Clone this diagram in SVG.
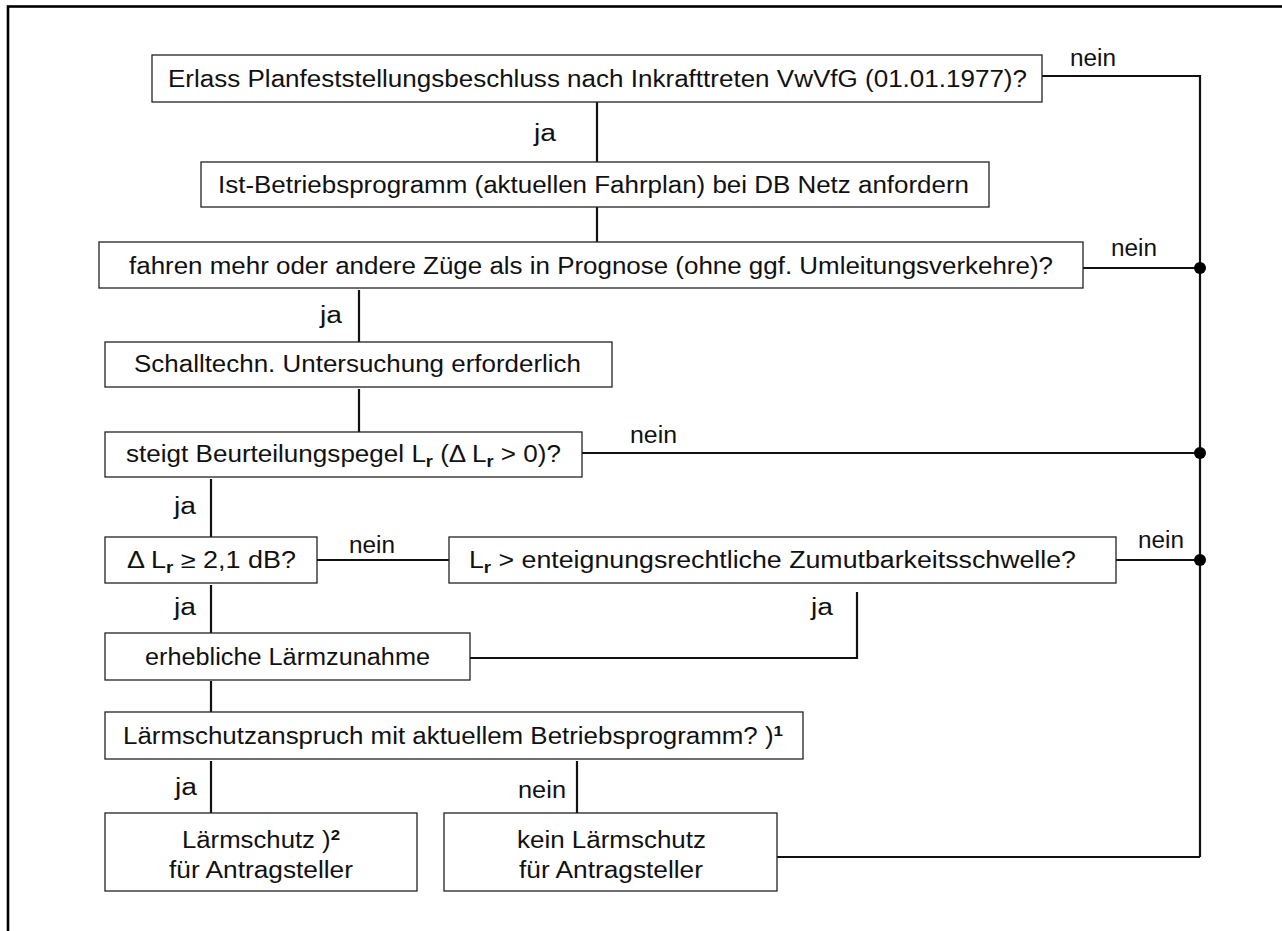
<svg xmlns="http://www.w3.org/2000/svg" width="1282" height="931" viewBox="0 0 1282 931">
<style>
.box{fill:#fff;stroke:#222;stroke-width:1.3}
.t{font-family:"Liberation Sans",Arial,sans-serif;font-size:23px;fill:#111}
.c{text-anchor:middle}
.con{fill:none;stroke:#111;stroke-width:2.2}
.sub{font-size:16px;font-weight:bold}
.sup{font-size:15px;font-weight:bold}
</style>
<rect x="0" y="0" width="1282" height="931" fill="#fff"/>
<rect x="8" y="6.5" width="1300" height="1000" fill="none" stroke="#000" stroke-width="2.6"/>

<g id="connectors">
<path class="con" d="M597 102V162M597 207V242M1042 76H1200V857M1083 268H1200M359 290V342M359 389V432M582 453H1200M211 479V537M317 560H449M1116 560H1200M857 592V658H470M211 585V633M211 681V712M211 761V813M577 761V813M777 857H1200"/>
<circle cx="1200" cy="268" r="6" fill="#000"/>
<circle cx="1200" cy="453" r="6" fill="#000"/>
<circle cx="1200" cy="560" r="6" fill="#000"/>
<text class="t" x="534" y="141" textLength="22" lengthAdjust="spacingAndGlyphs">ja</text>
<text class="t" x="1070" y="66" textLength="46" lengthAdjust="spacingAndGlyphs">nein</text>
<text class="t" x="1111" y="256" textLength="46" lengthAdjust="spacingAndGlyphs">nein</text>
<text class="t" x="320" y="323" textLength="22" lengthAdjust="spacingAndGlyphs">ja</text>
<text class="t" x="630" y="443" textLength="47" lengthAdjust="spacingAndGlyphs">nein</text>
<text class="t" x="174" y="514" textLength="22" lengthAdjust="spacingAndGlyphs">ja</text>
<text class="t" x="349" y="553" textLength="46" lengthAdjust="spacingAndGlyphs">nein</text>
<text class="t" x="174" y="615" textLength="22" lengthAdjust="spacingAndGlyphs">ja</text>
<text class="t" x="811" y="615" textLength="22" lengthAdjust="spacingAndGlyphs">ja</text>
<text class="t" x="1138" y="548" textLength="46" lengthAdjust="spacingAndGlyphs">nein</text>
<text class="t" x="175" y="795" textLength="22" lengthAdjust="spacingAndGlyphs">ja</text>
<text class="t" x="518" y="798" textLength="48" lengthAdjust="spacingAndGlyphs">nein</text>
</g>

<g id="n1"><rect class="box" x="152" y="55" width="890" height="47"/>
<text class="t c" x="597.5" y="87" textLength="859" lengthAdjust="spacingAndGlyphs">Erlass Planfeststellungsbeschluss nach Inkrafttreten VwVfG (01.01.1977)?</text></g>

<g id="n2"><rect class="box" x="201" y="162" width="788" height="45"/>
<text class="t c" x="593.5" y="193" textLength="751" lengthAdjust="spacingAndGlyphs">Ist-Betriebsprogramm (aktuellen Fahrplan) bei DB Netz anfordern</text></g>

<g id="n3"><rect class="box" x="99" y="242" width="984" height="46"/>
<text class="t c" x="591" y="274" textLength="924" lengthAdjust="spacingAndGlyphs">fahren mehr oder andere Züge als in Prognose (ohne ggf. Umleitungsverkehre)?</text></g>

<g id="n4"><rect class="box" x="105" y="342" width="507" height="45"/>
<text class="t c" x="357.5" y="372" textLength="447" lengthAdjust="spacingAndGlyphs">Schalltechn. Untersuchung erforderlich</text></g>

<g id="n5"><rect class="box" x="105" y="432" width="477" height="45"/>
<text class="t c" x="343.5" y="462" textLength="435" lengthAdjust="spacingAndGlyphs">steigt Beurteilungspegel L<tspan class="sub" dy="5">r</tspan><tspan dy="-5"> (Δ L</tspan><tspan class="sub" dy="5">r</tspan><tspan dy="-5"> &gt; 0)?</tspan></text></g>

<g id="n6"><rect class="box" x="105" y="537" width="212" height="46"/>
<text class="t c" x="211.5" y="568" textLength="169" lengthAdjust="spacingAndGlyphs">Δ L<tspan class="sub" dy="5">r</tspan><tspan dy="-5"> ≥ 2,1 dB?</tspan></text></g>

<g id="n7"><rect class="box" x="449" y="537" width="667" height="46"/>
<text class="t c" x="772.5" y="568" textLength="607" lengthAdjust="spacingAndGlyphs">L<tspan class="sub" dy="5">r</tspan><tspan dy="-5"> &gt; enteignungsrechtliche Zumutbarkeitsschwelle?</tspan></text></g>

<g id="n8"><rect class="box" x="105" y="633" width="365" height="47"/>
<text class="t c" x="287.5" y="665" textLength="285" lengthAdjust="spacingAndGlyphs">erhebliche Lärmzunahme</text></g>

<g id="n9"><rect class="box" x="105" y="712" width="698" height="47"/>
<text class="t c" x="453" y="744" textLength="660" lengthAdjust="spacingAndGlyphs">Lärmschutzanspruch mit aktuellem Betriebsprogramm? )<tspan class="sup" dy="-8">1</tspan></text></g>

<g id="n10"><rect class="box" x="105" y="813" width="312" height="78"/>
<text class="t c" x="261" y="848" textLength="158" lengthAdjust="spacingAndGlyphs">Lärmschutz )<tspan class="sup" dy="-8">2</tspan></text>
<text class="t c" x="261" y="878" textLength="184" lengthAdjust="spacingAndGlyphs">für Antragsteller</text></g>

<g id="n11"><rect class="box" x="444" y="813" width="333" height="78"/>
<text class="t c" x="611.5" y="848" textLength="189" lengthAdjust="spacingAndGlyphs">kein Lärmschutz</text>
<text class="t c" x="611" y="878" textLength="184" lengthAdjust="spacingAndGlyphs">für Antragsteller</text></g>
</svg>
